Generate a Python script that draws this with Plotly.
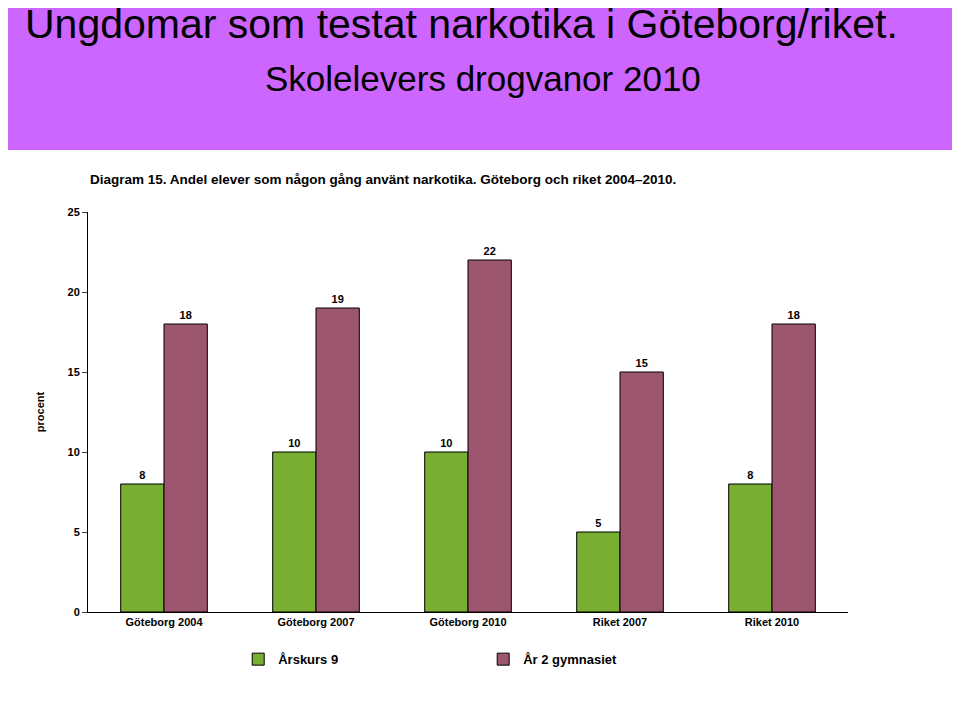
import plotly.graph_objects as go

# data
kategorier = ['Göteborg 2004', 'Göteborg 2007', 'Göteborg 2010', 'Riket 2007', 'Riket 2010']
arskurs9 = [8, 10, 10, 5, 8]
gymnasiet = [18, 19, 22, 15, 18]

fig = go.Figure()
fig.add_trace(go.Bar(x=kategorier, y=arskurs9, name='<b>Årskurs 9</b>',
                     marker=dict(color='#77AF33', line=dict(color='black', width=1)),
                     texttemplate='<b>%{y}</b>', textposition='outside',
                     textfont=dict(size=11, color='black')))
fig.add_trace(go.Bar(x=kategorier, y=gymnasiet, name='<b>År 2 gymnasiet</b>',
                     marker=dict(color='#9C566F', line=dict(color='black', width=1)),
                     texttemplate='<b>%{y}</b>', textposition='outside',
                     textfont=dict(size=11, color='black')))

# white panel behind the chart
fig.add_shape(type='rect', xref='paper', yref='paper', x0=-0.112, x1=1.143, y0=-0.25, y1=1.155,
              fillcolor='white', line=dict(width=0), layer='below')

fig.add_annotation(text='Ungdomar som testat narkotika i Göteborg/riket.', xref='paper', yref='paper',
                   x=-0.085, y=1.47, xanchor='left', yanchor='middle', showarrow=False,
                   font=dict(size=41, family='Liberation Sans, Arial', color='black'))
fig.add_annotation(text='Skolelevers drogvanor 2010', xref='paper', yref='paper',
                   x=0.52, y=1.335, xanchor='center', yanchor='middle', showarrow=False,
                   font=dict(size=35, family='Liberation Sans, Arial', color='black'))
fig.add_annotation(text='<b>Diagram 15. Andel elever som någon gång använt narkotika. Göteborg och riket 2004–2010.</b>',
                   xref='paper', yref='paper', x=0, y=1.08, xanchor='left', yanchor='middle', showarrow=False,
                   font=dict(size=13.5, family='Liberation Sans, Arial', color='black'))

fig.update_layout(
    width=960, height=704,
    margin=dict(l=80, r=120, t=204, b=100),
    paper_bgcolor='#CC66FF',
    plot_bgcolor='#FAEE9E',
    barmode='group', bargap=0.43, bargroupgap=0,
    font=dict(family='Liberation Sans, Arial', color='black'),
    showlegend=True,
    legend=dict(orientation='h', x=0.52, xanchor='center', y=-0.118, yanchor='middle',
                font=dict(size=13), traceorder='normal', entrywidth=200,
                bgcolor='rgba(0,0,0,0)'),
    xaxis=dict(showline=True, linecolor='black', ticks='', tickfont=dict(size=11),
               tickprefix='<b>', ticksuffix='</b>'),
    yaxis=dict(range=[0, 25], dtick=5, showline=True, linecolor='black', ticks='outside',
               ticklen=5, showgrid=False, tickfont=dict(size=11), tickprefix='<b>', ticksuffix='</b>',
               title=dict(text='<b>procent</b>', font=dict(size=11), standoff=20)),
)

fig.write_html('out.html')
